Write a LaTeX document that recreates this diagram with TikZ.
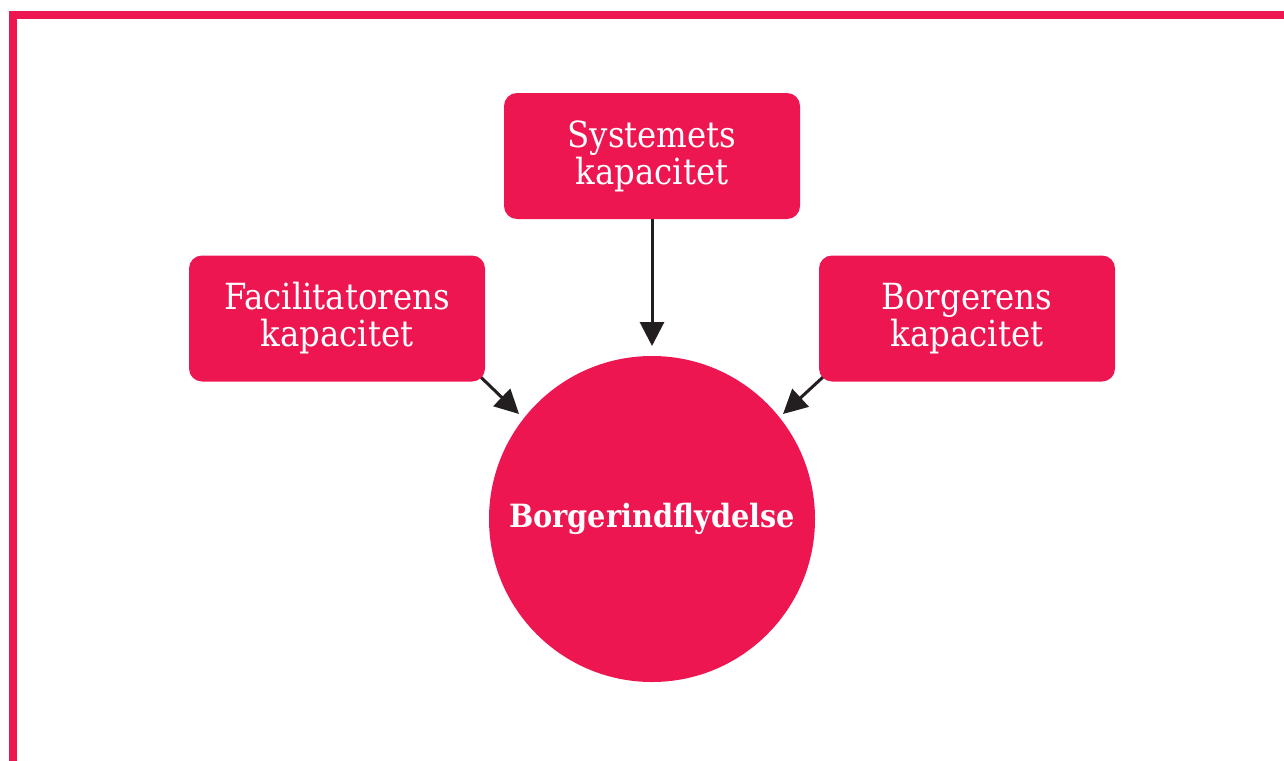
\documentclass[tikz,border=0pt]{standalone}
\usepackage{fontspec}
\setmainfont{DejaVu Serif Condensed}
\usetikzlibrary{arrows.meta,calc,backgrounds}
\definecolor{pinkc}{HTML}{EE1651}
\definecolor{darkc}{HTML}{231F20}
\tikzset{
  boxnode/.style={fill=pinkc, rounded corners=6.5pt, minimum width=148pt, minimum height=63pt, inner sep=0pt, align=center, text=white, font=\fontsize{18}{18.5}\selectfont},
  circnode/.style={circle, fill=pinkc, minimum size=163pt, inner sep=0pt},
  circtext/.style={text=white, font=\fontsize{16}{20}\selectfont\bfseries},
  arr/.style={draw=darkc, line width=1.5pt, -{Triangle[length=12pt,width=12pt]}},
}
\begin{document}
\begin{tikzpicture}[x=0.5pt,y=-0.5pt]
\useasboundingbox (0,0) rectangle (1284,760);
\clip (0,0) rectangle (1284,760);
\draw[pinkc, line width=4pt] (13,15) rectangle (1300,764.5);
\node[boxnode] (T) at (652,156) {Systemets\\kapacitet};
\node[boxnode] (L) at (337,318.5) {Facilitatorens\\kapacitet};
\node[boxnode] (R) at (967,318.5) {Borgerens\\kapacitet};
\node[circnode] (C) at (652,519) {};
\node[circtext] (CT) at (652,519) {Borgerindflydelse};
\coordinate (tt) at (652,346);
\coordinate (tl) at (519,414);
\coordinate (tr) at (783,414);
\begin{scope}[on background layer]
\draw[arr] (T.south) -- (tt);
\draw[arr] ($(L.south east)+(-10,-10)$) -- (tl);
\draw[arr] ($(R.south west)+(10,-10)$) -- (tr);
\end{scope}
\end{tikzpicture}
\end{document}
